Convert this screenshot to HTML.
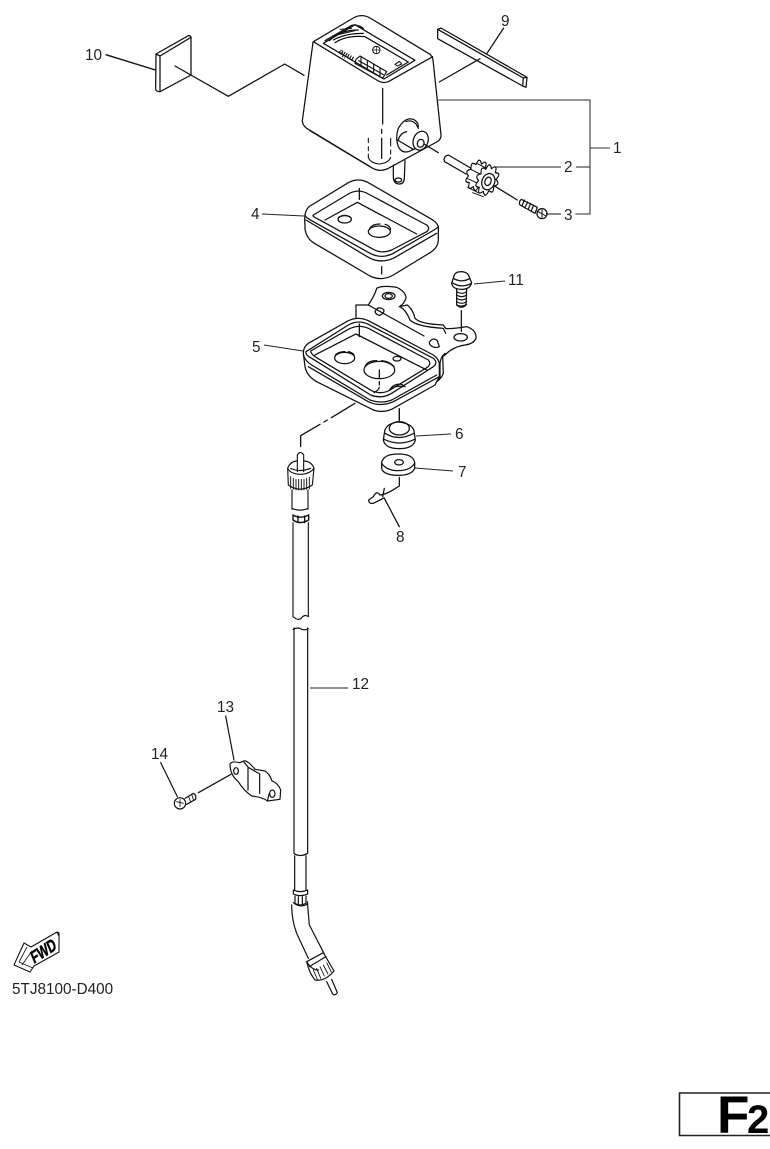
<!DOCTYPE html>
<html><head><meta charset="utf-8"><style>
html,body{margin:0;padding:0;background:#fff}
svg{display:block}
.l text{font-family:"Liberation Sans",sans-serif;font-size:15.3px;fill:#222;stroke:none}
</style></head><body>
<svg width="770" height="1149" viewBox="0 0 770 1149" xmlns="http://www.w3.org/2000/svg">
<rect width="770" height="1149" fill="#fff"/>

<!-- body, 9, 2, 3 -->
<g transform="translate(280,0) scale(.33333)" fill="none" stroke="#111" stroke-width="3.8" stroke-linejoin="round" stroke-linecap="round">
  <path d="M100 125 L220 54 Q245 40 270 54 L450 163 Q458 170 459 180 L483 405 Q484 418 470 426 L325 505 Q300 518 275 503 L80 385 Q67 375 67 362 L98 135 Q98 128 100 125Z" fill="#fff"/>
  <path d="M100 125 L290 240 Q308 252 325 245 L458 170"/>
  <path d="M90 392 L270 500"/>
  <path d="M130 130 L225 74 L405 181 L312 237 Z"/>
  <path d="M135 122 L215 76 Q232 72 250 85"/>
  <path d="M148 122 Q180 90 235 90 M160 120 Q195 100 250 100 M165 128 Q200 105 255 110 L385 186 L320 225"/>
  <path d="M180 88 L215 85 M170 105 L225 92" stroke-width="3"/>
  <path d="M228 178 L240 168 L320 215 L308 235 L225 190 Z" stroke-width="3.4"/>
  <path d="M243 172 V194 M262 183 V205 M281 194 V216 M300 205 V228 M236 182 L310 224" stroke-width="3.4"/>
  <text x="0" y="0" transform="translate(224,172) rotate(210)" font-family="Liberation Sans,sans-serif" font-size="25" font-weight="bold" fill="#111" stroke="none" text-anchor="start">mile</text>
  <circle cx="289" cy="150" r="11" stroke-width="3"/>
  <path d="M280 150 H298 M289 141 V159" stroke-width="2"/>
  <path d="M345 193 L358 184 L365 192 L352 198 Z" stroke-width="3"/>
  <path d="M308 265 V372 M305 388 V400 M305 415 V475"/>
  <path d="M265 415 V428 M265 440 V452 M265 462 V472 Q270 488 296 492 Q326 490 332 472 M332 462 V450 M332 438 V415" stroke-width="3.2"/>
  <!-- boss -->
  <path d="M355 385 Q375 350 400 358 Q415 365 415 380"/>
  <path d="M378 365 Q395 358 408 372 L415 385"/>
  <path d="M355 385 Q345 415 355 440 Q365 460 385 455 L420 440"/>
  <path d="M380 395 Q360 400 355 420"/>
  <ellipse cx="422" cy="422" rx="22" ry="29" transform="rotate(20 422 422)" fill="#fff"/>
  <ellipse cx="422" cy="430" rx="10" ry="12" transform="rotate(20 422 430)"/>
  <path d="M352 420 L400 448"/>
  <path d="M340 495 V530 Q340 552 358 552 Q372 552 373 535 L375 482"/>
  <ellipse cx="355" cy="540" rx="10" ry="6"/>
  <path d="M432 432 L475 458"/>
  <!-- gear shaft -->
  <path d="M505 465 L582 510 M494 485 L558 522 M505 465 Q488 470 494 485" fill="#fff"/>
  <!-- gear back -->
  <g transform="translate(-30,-14)">
    <g transform="translate(622 540) rotate(20) scale(1,1.2) translate(-622 -540)">
      <path d="M646 531 Q664.5 540 646 549 Q656 569 637 564 Q635 587.5 622 570 Q609 587.5 607 564 Q588 569 598 549 Q579.5 540 598 531 Q588 511 607 516 Q609 492.5 622 510 Q635 492.5 637 516 Q656 511 646 531Z" fill="#fff" stroke-width="3.4"/>
    </g>
  </g>
  <path d="M590 490 L620 505 M572 508 L600 522 M560 535 L590 548 M563 562 L595 578 M578 578 L610 590" stroke-width="3"/>
  <!-- gear front -->
  <g transform="translate(622 540) rotate(20) scale(1,1.2) translate(-622 -540)">
    <path d="M646 531 Q664.5 540 646 549 Q656 569 637 564 Q635 587.5 622 570 Q609 587.5 607 564 Q588 569 598 549 Q579.5 540 598 531 Q588 511 607 516 Q609 492.5 622 510 Q635 492.5 637 516 Q656 511 646 531Z" fill="#fff" stroke-width="3.4"/>
  </g>
  <ellipse cx="625" cy="545" rx="19" ry="25" transform="rotate(20 625 545)" fill="#fff"/>
  <ellipse cx="624" cy="544" rx="9" ry="13" transform="rotate(20 624 544)"/>
  <path d="M642 557 L712 600"/>
  <!-- screw 3 -->
  <path d="M724 598 L772 622 L765 640 L720 615 Q715 605 724 598Z" fill="#fff"/>
  <path d="M733 600 L726 618 M743 606 L735 622 M752 610 L745 627 M761 615 L754 632" stroke-width="3.6"/>
  <circle cx="786" cy="641" r="15" fill="#fff"/>
  <path d="M775 635 L798 648 M786 630 V652" stroke-width="3"/>
  <!-- part 9 -->
  <path d="M473 88 L483 84 L741 232 L738 262 L728 258 L473 116 Z" fill="#fff"/>
  <path d="M473 88 L730 234 L728 258 M730 234 L741 232"/>
  <path d="M671 84 L621 160"/>
  <path d="M600 176 L478 246"/>
</g>

<!-- gasket 4, bracket 5, bolt 11 -->
<g transform="translate(280,170) scale(.33333)" fill="none" stroke="#111" stroke-width="3.8" stroke-linejoin="round" stroke-linecap="round">
  <path d="M75 165 V178 Q80 205 100 218 L270 318 Q305 335 340 315 L455 245 Q475 230 475 210 L475 170 Q470 155 450 145 L265 38 Q235 22 205 38 L90 108 Q70 122 75 165Z" fill="#fff"/>
  <path d="M75 135 Q76 142 95 152 L270 250 Q305 268 340 250 L462 180 Q475 172 475 170"/>
  <path d="M78 150 L265 262 Q300 282 340 265 L470 190"/>
  <path d="M100 135 L205 72 Q235 55 265 72 L440 165 Q452 175 440 185 L335 240 Q305 252 280 238 L110 145 Q95 138 100 135Z"/>
  <path d="M135 150 L232 97 L410 192"/>
  <path d="M238 55 V88"/>
  <path d="M305 290 V312"/>
  <ellipse cx="194" cy="148" rx="20" ry="11"/>
  <path d="M176 142 Q194 130 212 142"/>
  <ellipse cx="298" cy="185" rx="33" ry="17"/>
  <path d="M268 178 Q275 162 300 162 M315 163 Q328 165 332 178"/>
  <!-- bolt 11 -->
  <path d="M522 318 Q525 305 545 305 Q565 307 568 322 L575 338 Q570 358 545 358 Q518 358 515 340 Z" fill="#fff"/>
  <path d="M520 325 Q545 340 570 325 M516 338 Q545 356 574 340"/>
  <path d="M530 358 L530 405 Q545 418 558 405 L560 356"/>
  <path d="M530 365 Q545 375 560 365 M530 375 Q545 385 560 375 M530 385 Q545 395 560 385 M530 395 Q545 405 560 395 M530 405 Q545 412 560 403" stroke-width="3.4"/>
  <path d="M544 422 V484"/>
  <!-- bracket -->
  <path d="M228 405 V448 M228 405 L265 405 Q285 375 290 355 Q305 345 350 352 Q378 365 378 385 Q372 402 358 410 L382 405 Q400 420 405 445 Q420 462 490 465 L497 475 Q510 478 560 470 Q590 480 588 505 Q580 522 555 525 Q520 530 497 553 L488 560 L490 610 Q485 625 470 635"/>
  <path d="M360 410 Q378 420 390 450 Q410 470 490 475 L497 490"/>
  <path d="M265 405 L432 498"/>
  <ellipse cx="326" cy="378" rx="19" ry="11"/>
  <ellipse cx="326" cy="378" rx="11" ry="7"/>
  <path d="M285 425 Q295 405 312 420 Q312 432 298 436 Q288 434 285 425Z"/>
  <path d="M448 517 Q458 500 472 512 L478 530 Q468 535 458 530 Q448 525 448 517Z"/>
  <ellipse cx="542" cy="502" rx="20" ry="11"/>
  <path d="M495 550 Q482 560 480 580 L480 625 L470 632"/>
  <!-- tray 5 -->
  <path d="M70 550 L75 590 Q80 618 110 635 L270 715 Q300 732 335 718 L465 645 L478 620 L478 580 Q475 565 460 555 L265 452 Q235 438 205 452 L85 520 Q70 530 70 550Z" fill="#fff"/>
  <path d="M70 555 Q75 572 95 585 L270 690 Q305 702 335 690 L470 615"/>
  <path d="M85 590 L265 695 Q300 712 340 695 L478 620"/>
  <path d="M78 545 L205 465 Q235 448 265 463 L460 565 Q475 578 460 590 L335 670 Q305 688 272 675 L95 565 Q75 555 78 545Z"/>
  <path d="M92 543 L205 478 Q235 462 265 475 L445 570 Q455 582 442 592 L330 660 Q305 675 275 662 L105 560 Q92 550 92 543Z"/>
  <path d="M105 555 L228 492 L440 600"/>
  <path d="M238 462 V500"/>
  <ellipse cx="194" cy="564" rx="30" ry="17"/>
  <path d="M166 555 Q175 545 195 545 M205 545 Q218 548 222 555"/>
  <ellipse cx="298" cy="600" rx="46" ry="26"/>
  <path d="M255 590 Q262 572 290 572 M305 572 Q330 575 342 590"/>
  <ellipse cx="351" cy="566" rx="12" ry="7"/>
  <path d="M298 600 V625 M298 635 V645 M298 652 Q295 662 282 668"/>
  <path d="M332 655 Q345 640 365 643 L375 650"/>
  <path d="M328 660 Q345 645 370 650"/>
  <path d="M358 716 V748"/>
</g>

<!-- 6,7,8 and leader to cable -->
<g transform="translate(270,400) scale(.33333)" fill="none" stroke="#111" stroke-width="3.8" stroke-linejoin="round" stroke-linecap="round">
  <path d="M92 107 L150 73 M162 66 L172 60 M184 53 L255 10"/>
  <path d="M92 107 V140"/>
  <path d="M344 93 Q350 70 385 66 Q425 70 432 92 L436 120 Q430 146 388 146 Q345 146 340 120 Z" fill="#fff"/>
  <ellipse cx="388" cy="85" rx="30" ry="20"/>
  <path d="M345 100 Q385 125 432 100 M342 118 Q388 140 434 118"/>
  <path d="M388 30 V66"/>
  <path d="M335 188 Q340 162 385 162 Q430 162 434 188 L434 205 Q425 226 385 226 Q340 226 335 205Z" fill="#fff"/>
  <path d="M335 190 Q350 212 385 212 Q420 212 434 190"/>
  <ellipse cx="387" cy="187" rx="13" ry="8"/>
  <path d="M388 232 V258 L372 268"/>
  <path d="M343 265 L338 290 M372 268 Q345 285 330 285 Q320 270 310 290 L296 300 Q296 312 310 310 L340 295"/>
  <path d="M342 293 L388 380"/>
</g>

<!-- cable top -->
<g transform="translate(270,440) scale(.33333)" fill="none" stroke="#111" stroke-width="3.4" stroke-linejoin="round" stroke-linecap="round">
  <path d="M82 95 V45 Q91 30 101 45 V95"/>
  <path d="M53 85 Q60 65 80 63 M103 63 Q125 65 132 85"/>
  <path d="M53 85 L55 135 Q90 160 127 135 L132 85 Q120 102 92 103 Q62 102 53 85Z"/>
  <path d="M62 85 Q90 98 122 85"/>
  <path d="M62 110 V145 M70 115 V148 M78 118 V150 M86 118 V150 M94 118 V150 M102 118 V150 M110 115 V148 M118 112 V146" stroke-width="2.8"/>
  <path d="M66 150 V208 M114 150 V208"/>
  <path d="M66 205 Q90 216 114 205"/>
  <path d="M69 225 Q90 238 116 225 V240 Q90 255 69 240 Z" stroke-width="4.2"/>
  <path d="M84 228 V248 M104 228 V248" stroke-width="4"/>
  <path d="M69 248 V530 Q88 545 96 532 Q105 522 115 530 V248"/>
  <path d="M69 568 Q85 560 95 568 Q108 572 115 566"/>
</g>

<!-- lower cable, clamp, screw -->
<g transform="translate(150,690) scale(.33333)" fill="none" stroke="#111" stroke-width="3.6" stroke-linejoin="round" stroke-linecap="round">
  <path d="M432 -186 V490 Q450 503 473 490 V-186"/>
  <path d="M434 497 V600 M468 497 V600"/>
  <path d="M430 600 Q450 610 473 600 M430 600 V612 Q450 622 473 612 V600"/>
  <path d="M435 618 V640 Q450 650 468 640 V618 M445 620 V642 M457 620 V642"/>
  <path d="M430 638 Q450 655 473 642"/>
  <path d="M425 645 Q425 690 440 730 L475 805 M472 635 L478 705 L522 790"/>
  <path d="M470 815 L520 788 L552 843 Q525 875 495 870 Q478 850 470 815Z" fill="#fff"/>
  <path d="M478 830 L528 800 M470 815 Q485 840 505 840"/>
  <path d="M490 840 L502 868 M500 835 L512 865 M510 830 L523 858 M520 825 L534 852 M530 818 L544 846" stroke-width="2.6"/>
  <path d="M530 875 L548 912 Q555 918 562 908 L545 868"/>
  <!-- clamp -->
  <path d="M240 222 Q245 212 268 218 L285 212 Q300 218 315 238 L345 243 Q362 255 365 272 Q385 280 392 300 L390 328 L352 333 Q340 322 305 318 Q280 300 265 275 Q240 255 240 222Z" fill="#fff"/>
  <ellipse cx="258" cy="243" rx="7" ry="10"/>
  <ellipse cx="367" cy="311" rx="8" ry="11"/>
  <path d="M294 232 V300 M329 252 V310"/>
  <path d="M280 214 L295 232 L329 252"/>
  <path d="M352 333 L358 310"/>
  <!-- screw 14 -->
  <circle cx="90" cy="340" r="17" fill="#fff"/>
  <path d="M80 335 L100 340 M90 328 V350" stroke-width="2.6"/>
  <path d="M105 325 L130 310 Q140 315 137 328 L110 343" fill="#fff"/>
  <path d="M115 318 L122 336 M125 313 L131 331" stroke-width="2.6"/>
  <path d="M145 308 L243 253"/>
  <path d="M227 78 L252 210"/>
  <path d="M32 218 L82 320"/>
</g>

<!-- part 10 and leaders -->
<g transform="translate(60,20) scale(.33333)" fill="none" stroke="#111" stroke-width="3.8" stroke-linejoin="round" stroke-linecap="round">
  <path d="M288 102 L385 47 Q392 46 393 52 V165 L300 215 Q290 215 287 208 Z" fill="#fff"/>
  <path d="M288 102 L300 108 L393 52 M300 108 V215"/>
  <path d="M138 104 L287 150"/>
  <path d="M345 138 L505 229 L674 132 L732 166"/>
</g>

<!-- bracket 1 -->
<g fill="none" stroke="#555" stroke-width="1.3">
  <path d="M439 100 H590 V214 H576" stroke-linecap="square"/>
  <path d="M590 148 H610" stroke="#333" stroke-width="1"/>
  <path d="M496 167 H561 M576 167 H590" stroke="#222" stroke-width="1"/>
</g>
<g fill="none" stroke="#222" stroke-width="1.1">
  <path d="M546 214 H561"/>
  <path d="M106 55 L155 70"/>
  <path d="M262 214 L304 216"/>
  <path d="M264 345 L303 351"/>
  <path d="M474 284 L505 281"/>
  <path d="M416 436 L451 434"/>
  <path d="M415 468 L453 471"/>
  <path d="M310 688 H348"/>
</g>

<!-- FWD arrow -->
<g fill="#fff" stroke="#111" stroke-width="1.1" stroke-linejoin="round">
  <path d="M14 965 L24 943 L31 947 L57 932 L59 933 L59 952 L34 966 L30 972 Z"/>
  <path d="M57 932 L59 936" fill="none"/>
  <path d="M19 962 L27 947 M22 965 L32 951 M19 962 L33 968" fill="none" stroke-width=".8"/>
  <text x="0" y="0" transform="translate(34,964) rotate(-33) skewX(-10)" font-family="Liberation Sans,sans-serif" font-size="17" font-weight="bold" fill="#000" stroke="#000" stroke-width=".5" textLength="28" lengthAdjust="spacingAndGlyphs">FWD</text>
</g>

<!-- labels -->
<g class="l">
  <text x="85" y="60">10</text>
  <text x="501" y="26">9</text>
  <text x="613" y="153">1</text>
  <text x="564" y="172">2</text>
  <text x="564" y="220">3</text>
  <text x="251" y="219">4</text>
  <text x="508" y="285">11</text>
  <text x="252" y="352">5</text>
  <text x="455" y="439">6</text>
  <text x="458" y="477">7</text>
  <text x="396" y="542">8</text>
  <text x="352" y="689">12</text>
  <text x="217" y="712">13</text>
  <text x="151" y="759">14</text>
  <text x="12" y="994">5TJ8100-D400</text>
</g>

<!-- F2 box -->
<path d="M770 1093 H679.5 V1135.5 H770" fill="none" stroke="#222" stroke-width="1.6"/>
<text x="717" y="1133" font-family="Liberation Sans,sans-serif" font-weight="bold" font-size="53" fill="#000">F</text>
<text x="747" y="1133" font-family="Liberation Sans,sans-serif" font-weight="bold" font-size="40" fill="#000">2</text>
</svg>
</body></html>
